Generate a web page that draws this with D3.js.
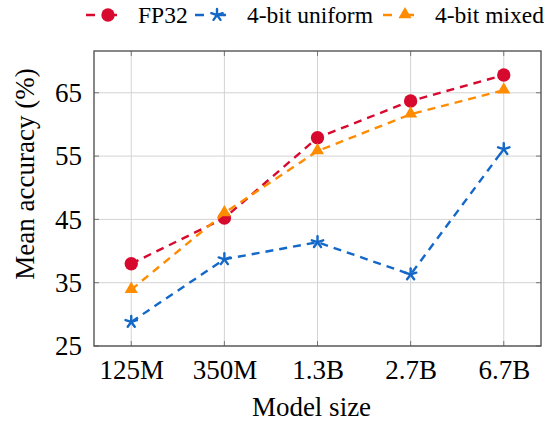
<!DOCTYPE html>
<html>
<head>
<meta charset="utf-8">
<script src="https://cdn.jsdelivr.net/npm/d3@7"></script>
<style>
html,body{margin:0;padding:0;background:#fff;}
text{font-family:"Liberation Serif","Times New Roman",serif;fill:#000;}
</style>
</head>
<body>
<svg id="chart" width="547" height="425"></svg>
<script>
const categories = ["125M", "350M", "1.3B", "2.7B", "6.7B"];
const fp32 = [38.0, 45.2, 57.9, 63.7, 67.8];
const uniform4 = [28.8, 38.7, 41.4, 36.3, 56.1];
const mixed4 = [33.9, 46.0, 55.8, 61.6, 65.4];
const yTicks = [25, 35, 45, 55, 65];
const seriesNames = ["FP32", "4-bit uniform", "4-bit mixed"];

const series = [
  {name: seriesNames[0], values: fp32, color: "#d7092f", mark: "circle"},
  {name: seriesNames[1], values: uniform4, color: "#1368c8", mark: "star"},
  {name: seriesNames[2], values: mixed4, color: "#ff8c00", mark: "triangle"}
];

const svg = d3.select("#chart");
const L = 94, R = 541, T = 51, B = 346;

const x = d3.scaleLinear().domain([-0.4, 4.4]).range([L, R]);
const y = d3.scaleLinear().domain([25, 71.6]).range([B, T]);

// grid
const g = svg.append("g");
g.selectAll(".vg").data(categories).enter().append("line")
  .attr("x1", (d,i)=>x(i)).attr("x2", (d,i)=>x(i))
  .attr("y1", T).attr("y2", B)
  .attr("stroke", "#d3d3d3").attr("stroke-width", 1);
g.selectAll(".hg").data(yTicks).enter().append("line")
  .attr("x1", L).attr("x2", R)
  .attr("y1", d=>y(d)).attr("y2", d=>y(d))
  .attr("stroke", "#d3d3d3").attr("stroke-width", 1);

// inner ticks
const tk = 5;
g.selectAll(".xtb").data(categories).enter().append("line")
  .attr("x1",(d,i)=>x(i)).attr("x2",(d,i)=>x(i)).attr("y1",B).attr("y2",B-tk)
  .attr("stroke","#777").attr("stroke-width",1);
g.selectAll(".xtt").data(categories).enter().append("line")
  .attr("x1",(d,i)=>x(i)).attr("x2",(d,i)=>x(i)).attr("y1",T).attr("y2",T+tk)
  .attr("stroke","#777").attr("stroke-width",1);
g.selectAll(".ytl").data(yTicks).enter().append("line")
  .attr("x1",L).attr("x2",L+tk).attr("y1",d=>y(d)).attr("y2",d=>y(d))
  .attr("stroke","#777").attr("stroke-width",1);
g.selectAll(".ytr").data(yTicks).enter().append("line")
  .attr("x1",R).attr("x2",R-tk).attr("y1",d=>y(d)).attr("y2",d=>y(d))
  .attr("stroke","#777").attr("stroke-width",1);

// frame
svg.append("rect").attr("x",L).attr("y",T).attr("width",R-L).attr("height",B-T)
  .attr("fill","none").attr("stroke","#555").attr("stroke-width",1.4);

// axes labels via d3 axes (domain/tick lines hidden)
const xAxis = d3.axisBottom(x).tickValues(d3.range(categories.length))
  .tickFormat(i=>categories[i]).tickSize(0).tickPadding(14);
const xa = svg.append("g").attr("transform",`translate(0,${B})`).call(xAxis);
xa.select(".domain").remove();
xa.selectAll("text").attr("font-size",27).attr("font-family","Liberation Serif").attr("fill","#000");

const yAxis = d3.axisLeft(y).tickValues(yTicks).tickSize(0).tickPadding(12);
const ya = svg.append("g").attr("transform",`translate(${L},0)`).call(yAxis);
ya.select(".domain").remove();
ya.selectAll("text").attr("font-size",27).attr("font-family","Liberation Serif").attr("fill","#000");

svg.append("text").attr("x",(L+R)/2 - 6).attr("y",416).attr("text-anchor","middle")
  .attr("font-size",27).text("Model size");
svg.append("text").attr("transform",`translate(34,174) rotate(-90)`).attr("text-anchor","middle")
  .attr("font-size",27).text("Mean accuracy (%)");

function drawMark(sel, type, color){
  if(type==="circle"){
    sel.append("circle").attr("r",6.7).attr("fill",color);
  } else if(type==="triangle"){
    sel.append("path").attr("d", d3.symbol(d3.symbolTriangle, 74)()).attr("fill",color)
      .attr("transform","translate(0,-0.5)");
  } else {
    const r = 6;
    for(let k=0;k<5;k++){
      const a = -Math.PI/2 + k*2*Math.PI/5;
      sel.append("line").attr("x1",0).attr("y1",0)
        .attr("x2",r*Math.cos(a)).attr("y2",r*Math.sin(a))
        .attr("stroke",color).attr("stroke-width",2.4).attr("stroke-linecap","round");
    }
  }
}

const line = d3.line().x((d,i)=>x(i)).y(d=>y(d));
series.forEach(s=>{
  svg.append("path").attr("d", line(s.values)).attr("fill","none")
    .attr("stroke", s.color).attr("stroke-width",2.4).attr("stroke-dasharray","8,6");
  s.values.forEach((v,i)=>{
    const m = svg.append("g").attr("transform",`translate(${x(i)},${y(v)})`);
    drawMark(m, s.mark, s.color);
  });
});

// legend
const legX = [86, 195, 383];
const legY = 15;
series.forEach((s,k)=>{
  const lg = svg.append("g").attr("transform",`translate(${legX[k]},${legY})`);
  lg.append("line").attr("x1",0).attr("x2",40).attr("y1",0).attr("y2",0)
    .attr("stroke",s.color).attr("stroke-width",2.4).attr("stroke-dasharray","9,13");
  const m = lg.append("g").attr("transform","translate(22,0)");
  drawMark(m, s.mark, s.color);
  lg.append("text").attr("x",52).attr("y",8).attr("font-size",23.5).text(s.name);
});
</script>
</body>
</html>
